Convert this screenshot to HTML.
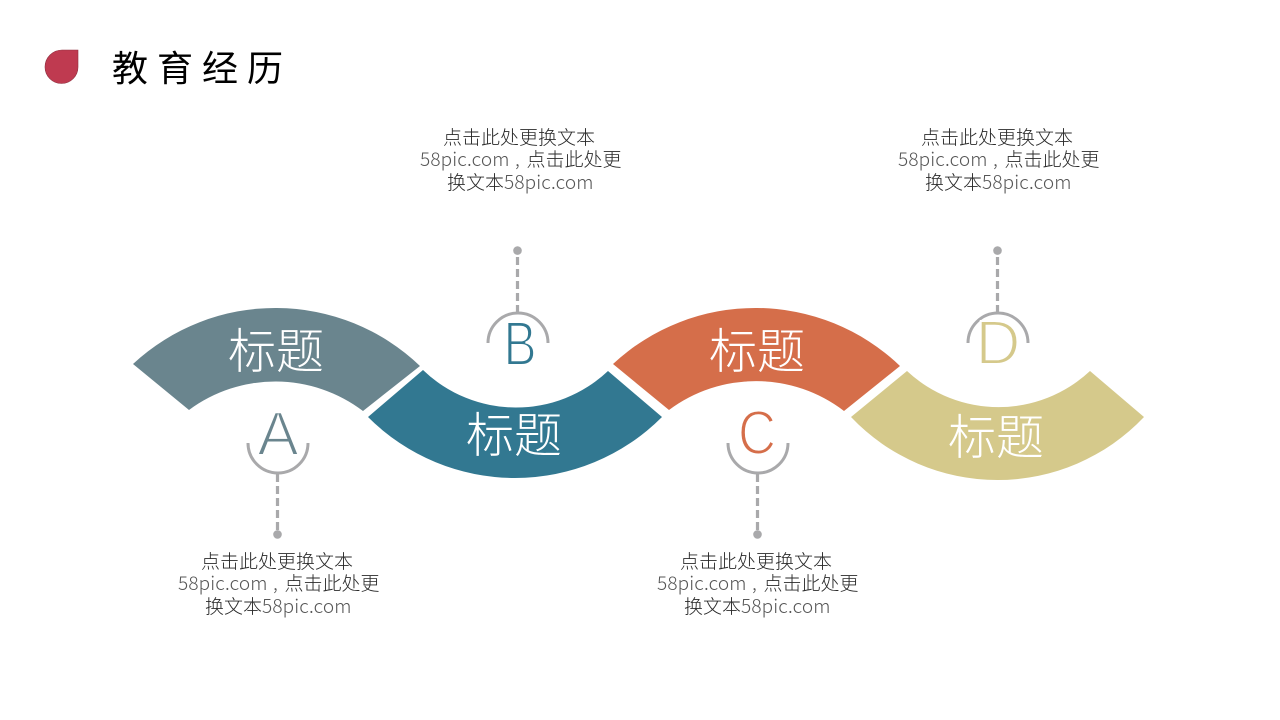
<!DOCTYPE html>
<html><head><meta charset="utf-8">
<style>
html,body{margin:0;padding:0;background:#fff;width:1280px;height:720px;overflow:hidden}
svg{display:block}
text{font-family:"Liberation Sans","Noto Sans CJK SC",sans-serif}
.t{font-size:19px;fill:#2a2a2a;text-anchor:middle;font-weight:300;font-family:"Noto Sans CJK SC","Liberation Sans",sans-serif}
.p{font-size:19px;fill:#2a2a2a;font-weight:300;font-family:"Noto Sans CJK SC","Liberation Sans",sans-serif}
.n{fill:#555;letter-spacing:.15px}
.h{font-size:48px;fill:#fff;text-anchor:middle;font-weight:300;font-family:"Noto Sans CJK SC","Liberation Sans",sans-serif}
.l{font-size:62px;text-anchor:middle;stroke:#fff;stroke-width:1.9px;paint-order:fill stroke}
.c{fill:none;stroke:#a9a9ab;stroke-width:3}
.d{stroke:#a9a9ab;stroke-width:3.200;stroke-dasharray:8 4;fill:none}
</style></head><body>
<svg width="1280" height="720" viewBox="0 0 1280 720" xmlns="http://www.w3.org/2000/svg">
<path d="M45 67A16.500 16.500 0 1 0 78 67V50H62A17 17 0 0 0 45 67Z" fill="#bf3a50" stroke="#8f3040" stroke-width=".6"/>
<text x="112" y="81" font-size="36" fill="#000" letter-spacing="9" style='font-family:"Noto Sans CJK SC",sans-serif'>教育经历</text>

<path d="M133 364A209 209 0 0 1 420 366L363 411A145 145 0 0 0 189 410Z" fill="#6a858e"/>
<path d="M368 417L423 370A134 134 0 0 0 608 371L662 417A207.600 207.600 0 0 1 368 417Z" fill="#327891"/>
<path d="M613 364A209 209 0 0 1 900 366L844 411A145 145 0 0 0 669 410Z" fill="#d56e4a"/>
<path d="M851 417L907 371A134 134 0 0 0 1090 371L1144 417A201.800 201.800 0 0 1 851 417Z" fill="#d5c98b"/>

<text class="h" x="276" y="368">标题</text>
<text class="h" x="514" y="452">标题</text>
<text class="h" x="757" y="368">标题</text>
<text class="h" x="996" y="454">标题</text>

<path class="c" d="M248 443A30 30 0 0 0 308 443"/>
<path class="c" d="M488 343A30 30 0 0 1 548 343"/>
<path class="c" d="M728 443A30 30 0 0 0 788 443"/>
<path class="c" d="M968 343A30 30 0 0 1 1028 343"/>

<path class="d" d="M277.500 474V532"/><circle cx="277.500" cy="534.400" r="4.300" fill="#a9a9ab"/>
<path class="d" d="M517.500 313V252"/><circle cx="517.500" cy="250.600" r="4.300" fill="#a9a9ab"/>
<path class="d" d="M757.500 474V532"/><circle cx="757.500" cy="534.400" r="4.300" fill="#a9a9ab"/>
<path class="d" d="M997.500 313V252"/><circle cx="997.500" cy="250.600" r="4.300" fill="#a9a9ab"/>

<text class="l" x="278" y="455" fill="#6a858e">A</text>
<text class="l" transform="translate(520 365) scale(.8 1)" fill="#327891">B</text>
<text class="l" transform="translate(757 454) scale(.85 1)" fill="#d56e4a">C</text>
<text class="l" x="998" y="364" fill="#d5c98b">D</text>

<text class="t" x="519" y="144">点击此处更换文本</text>
<text class="p" y="166"><tspan class="n" x="420">58pic.com</tspan><tspan class="n" x="515">,</tspan><tspan x="526.500">点击此处更</tspan></text>
<text class="p" y="189"><tspan x="447">换文本</tspan><tspan class="n" x="504">58pic.com</tspan></text>

<text class="t" x="997" y="144">点击此处更换文本</text>
<text class="p" y="166"><tspan class="n" x="898">58pic.com</tspan><tspan class="n" x="993">,</tspan><tspan x="1004.500">点击此处更</tspan></text>
<text class="p" y="189"><tspan x="925">换文本</tspan><tspan class="n" x="982">58pic.com</tspan></text>

<text class="t" x="277" y="568">点击此处更换文本</text>
<text class="p" y="590"><tspan class="n" x="178">58pic.com</tspan><tspan class="n" x="273">,</tspan><tspan x="284.500">点击此处更</tspan></text>
<text class="p" y="613"><tspan x="205">换文本</tspan><tspan class="n" x="262">58pic.com</tspan></text>

<text class="t" x="756" y="568">点击此处更换文本</text>
<text class="p" y="590"><tspan class="n" x="657">58pic.com</tspan><tspan class="n" x="752">,</tspan><tspan x="763.500">点击此处更</tspan></text>
<text class="p" y="613"><tspan x="684">换文本</tspan><tspan class="n" x="741">58pic.com</tspan></text>
</svg>
</body></html>
